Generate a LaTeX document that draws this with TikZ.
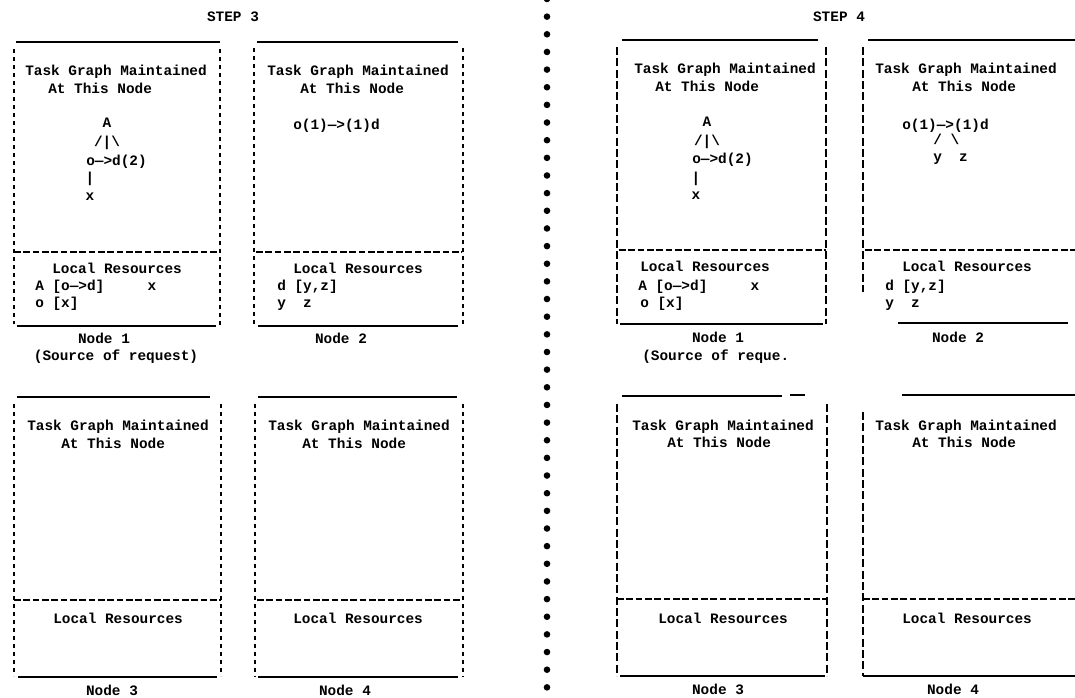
\documentclass[tikz,border=0pt]{standalone}
\usepackage{fontspec}
\newfontfamily\tf{Liberation Mono}
\begin{document}
\begin{tikzpicture}[x=0.75pt,y=-0.75pt,
  txt/.style={anchor=base west,inner sep=0pt,font=\tf\bfseries\fontsize{10.8pt}{12pt}\selectfont},
  ctxt/.style={txt,anchor=base},
  solidline/.style={line width=1.8pt},
  thinside/.style={line width=1.1pt,dash pattern=on 3pt off 3pt},
  thickside/.style={line width=1.6pt,dash pattern=on 6pt off 2.5pt},
  divider/.style={line width=1.8pt,dash pattern=on 5pt off 2pt},
  dotmark/.style={fill=black}]
\useasboundingbox (0,0) rectangle (1075,698);

% ---------- middle dotted separator ----------
\foreach \k in {0,...,39}{
  \fill[dotmark] (547,{-1+17.65*\k}) circle (3.3);
}

% ================= STEP 3 =================
\node[ctxt] (s3) at (233,22) {STEP 3};

% Box L1
\draw[solidline] (16,42) -- (220,42);
\draw[thinside] (14,49) -- (14,324);
\draw[thinside] (220,49) -- (220,326);
\draw[divider] (14,252) -- (219,252);
\draw[solidline] (17,326) -- (216,326);
\node[txt] (l1t1) at (25,76) {Task Graph Maintained};
\node[txt] (l1t2) at (48,94) {At This Node};
\node[ctxt] (l1a) at (107,128) {A};
\node[ctxt] (l1b) at (107,147) {/|\textbackslash};
\node[txt] (l1c) at (86,166) {o—>d(2)};
\node[ctxt] (l1d) at (90,183) {|};
\node[ctxt] (l1e) at (90,201) {x};
\node[txt] (l1r) at (52,274) {Local Resources};
\node[txt] (l1r1) at (35,291) {A [o—>d]~~~~~x};
\node[txt] (l1r2) at (35,308) {o [x]};
\node[ctxt] (l1n) at (104,344) {Node 1};
\node[ctxt] (l1s) at (116,361) {(Source of request)};

% Box L2
\draw[solidline] (257,42) -- (458,42);
\draw[thinside] (254,48) -- (254,326);
\draw[thinside] (463,48) -- (463,326);
\draw[divider] (256,252) -- (462,252);
\draw[solidline] (258,326) -- (458,326);
\node[txt] (l2t1) at (267,76) {Task Graph Maintained};
\node[txt] (l2t2) at (300,94) {At This Node};
\node[txt] (l2g) at (293,130) {o(1)—>(1)d};
\node[txt] (l2r) at (293,274) {Local Resources};
\node[txt] (l2r1) at (277,291) {d [y,z]};
\node[txt] (l2r2) at (277,308) {y~~z};
\node[ctxt] (l2n) at (341,344) {Node 2};

% Box L3
\draw[solidline] (17,397) -- (210,397);
\draw[thinside] (14,404) -- (14,676);
\draw[thinside] (221,404) -- (221,676);
\draw[divider] (14,600) -- (221,600);
\draw[solidline] (18,677) -- (217,677);
\node[txt] (l3t1) at (27,431) {Task Graph Maintained};
\node[txt] (l3t2) at (61,449) {At This Node};
\node[txt] (l3r) at (53,623) {Local Resources};
\node[ctxt] (l3n) at (112,695) {Node 3};

% Box L4
\draw[solidline] (258,397) -- (457,397);
\draw[thinside] (255,404) -- (255,677);
\draw[thinside] (463,404) -- (463,677);
\draw[divider] (257,600) -- (462,600);
\draw[solidline] (258,677) -- (458,677);
\node[txt] (l4t1) at (268,431) {Task Graph Maintained};
\node[txt] (l4t2) at (302,449) {At This Node};
\node[txt] (l4r) at (293,623) {Local Resources};
\node[ctxt] (l4n) at (345,695) {Node 4};

% ================= STEP 4 =================
\node[ctxt] (s4) at (839,22) {STEP 4};

% Box R1
\draw[solidline] (622,40) -- (818,40);
\draw[thickside] (617,47) -- (617,324);
\draw[thickside] (826,47) -- (826,324);
\draw[divider] (619,250) -- (826,250);
\draw[solidline] (620,324) -- (823,324);
\node[txt] (r1t1) at (634,74) {Task Graph Maintained};
\node[txt] (r1t2) at (655,92) {At This Node};
\node[ctxt] (r1a) at (707,127) {A};
\node[ctxt] (r1b) at (707,146) {/|\textbackslash};
\node[txt] (r1c) at (692,164) {o—>d(2)};
\node[ctxt] (r1d) at (696,183) {|};
\node[ctxt] (r1e) at (696,200) {x};
\node[txt] (r1r) at (640,272) {Local Resources};
\node[txt] (r1r1) at (638,291) {A [o—>d]~~~~~x};
\node[txt] (r1r2) at (640,308) {o [x]};
\node[ctxt] (r1n) at (718,343) {Node 1};
\node[txt] (r1s) at (642,361) {(Source of reque.};

% Box R2
\draw[solidline] (868,40) -- (1075,40);
\draw[thickside] (863,47) -- (863,292);
\draw[divider] (865,250) -- (1075,250);
\draw[solidline] (898,323) -- (1068,323);
\node[txt] (r2t1) at (875,74) {Task Graph Maintained};
\node[txt] (r2t2) at (912,92) {At This Node};
\node[txt] (r2g) at (902,130) {o(1)—>(1)d};
\node[txt] (r2h) at (933,145) {/~\textbackslash};
\node[txt] (r2i) at (933,162) {y~~z};
\node[txt] (r2r) at (902,272) {Local Resources};
\node[txt] (r2r1) at (885,291) {d [y,z]};
\node[txt] (r2r2) at (885,308) {y~~z};
\node[ctxt] (r2n) at (958,343) {Node 2};

% Box R3
\draw[solidline] (622,396) -- (782,396);
\draw[solidline] (790,395) -- (805,395);
\draw[thickside] (617,404) -- (617,676);
\draw[thickside] (827,404) -- (827,676);
\draw[divider] (617,599) -- (827,599);
\draw[solidline] (620,676) -- (825,676);
\node[txt] (r3t1) at (632,431) {Task Graph Maintained};
\node[txt] (r3t2) at (667,448) {At This Node};
\node[txt] (r3r) at (658,623) {Local Resources};
\node[ctxt] (r3n) at (718,694) {Node 3};

% Box R4
\draw[solidline] (902,395) -- (1075,395);
\draw[thickside] (863,412) -- (863,676);
\draw[divider] (863,599) -- (1075,599);
\draw[solidline] (863,676) -- (1075,676);
\node[txt] (r4t1) at (875,431) {Task Graph Maintained};
\node[txt] (r4t2) at (912,448) {At This Node};
\node[txt] (r4r) at (902,623) {Local Resources};
\node[ctxt] (r4n) at (953,694) {Node 4};
\end{tikzpicture}
\end{document}
